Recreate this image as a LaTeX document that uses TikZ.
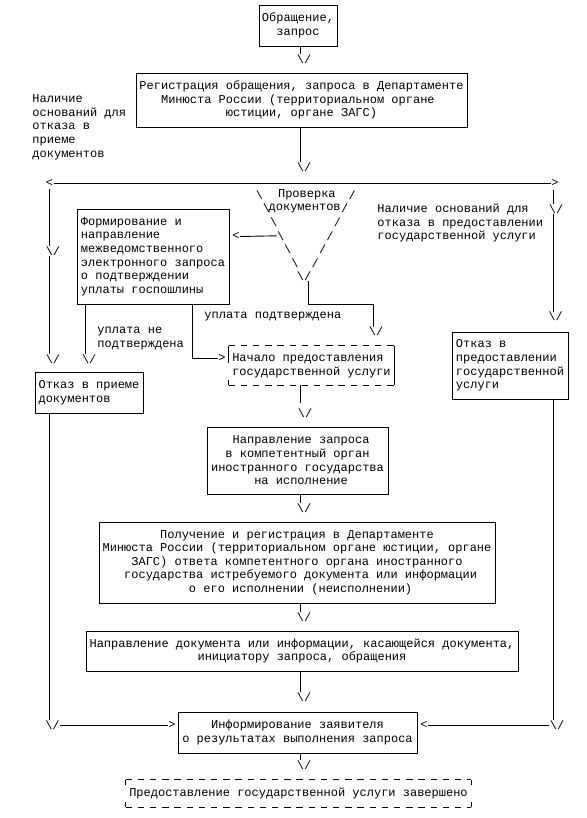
\documentclass[tikz,border=0pt]{standalone}
\usepackage{fontspec}
\setmonofont{Liberation Mono}
\usetikzlibrary{positioning,calc}
\newcommand{\lsp}{\hphantom{0}}

\begin{document}
\begin{tikzpicture}[x=1pt,y=-1pt,line width=0.9pt,
  every node/.style={font=\ttfamily\fontsize{12}{13.6}\selectfont},
  box/.style={draw,inner sep=0pt,align=center},
  lbox/.style={box,align=left},
  plain/.style={inner sep=0pt,align=left},
  head/.style={inner sep=0pt},
  dashline/.style={dash pattern=on 6.5pt off 5.7pt}]
\useasboundingbox (0,0) rectangle (586,818);
\coordinate (axis) at (300.7,0);

%Request
\node[box,minimum width=78pt,minimum height=41pt] (req) at (298,25.5) {Обращение,\\запрос};
\node[head] (h1) at (304,59) {\textbackslash/};
\draw (req.south -| axis)--(h1.north -| axis);

%Registration
\node[box,minimum width=331pt,minimum height=54pt] (reg) at (301.5,100) {
Регистрация обращения, запроса в Департаменте\\
Минюста России (территориальном органе\lsp\\
юстиции, органе ЗАГС)};
\node[plain,anchor=west] (why1) at (32,127.2) {Наличие\\оснований для\\отказа в\\приеме\\документов};
\node[head] (h2) at (304,167) {\textbackslash/};
\draw (reg.south -| axis)--(h2.north -| axis);

% branch line
\node[head,anchor=east] (lt) at (53.5,183) {<};
\node[head,anchor=west] (rt) at (551,183) {>};
\draw (lt.east)--(rt.west);

%Check of documents
\foreach \r in {0,...,5}{
\node[head] (bs\r) at (259.4+7.1*\r,195+13.6*\r) {\textbackslash};
\node[head] (fs\r) at (352.2-7.4*\r,195+13.6*\r) {/};
}
\node[plain,anchor=west] (chk1) at (277.6,195) {Проверка};
\node[plain,anchor=west] (chk2) at (268.2,208.6) {документов};
\node[head] (hd) at (304,276.6) {\textbackslash/};

%Inter-agency request
\node[lbox,minimum width=152pt,minimum height=95pt] (form) at (153,256.5) {
Формирование и\\направление\\межведомственного\\электронного запроса\\о подтверждении\\уплаты госпошлины};
\node[head,anchor=east] (ltf) at (240,236.5) {<};
\draw (ltf.east)--(bs3.west);

% payment not confirmed
\coordinate (nc) at (85.7,0);
\node[head] (hn) at (89.2,359) {\textbackslash/};
\node[plain,anchor=west] (nolbl) at (97,338.5) {уплата не\\подтверждена};
\draw (form.south -| nc)--(hn.north -| nc);

% payment confirmed
\coordinate (pc) at (192.7,0);
\node[plain,anchor=west] (oklbl) at (204,317) {уплата подтверждена};
\node[head,anchor=west] (gt) at (218,358.3) {>};
\draw (form.south -| pc) |- (gt.west);

% exit of the check
\coordinate (d1) at (308.3,0);
\coordinate (d2) at (373.3,304);
\node[head] (hs) at (376,331.7) {\textbackslash/};
\draw (hd.south -| d1) |- (d2)--(d2 |- hs.north);

%Start of the service
\node[lbox,draw=none,minimum width=165pt,minimum height=39pt] (start) at (311.5,365.5) {
Начало предоставления\\государственной услуги};
\draw[dashline] (start.north west)--(start.north east);
\draw[dashline] (start.south west)--(start.south east);
\draw (start.north east)--(start.south east);
\draw (start.north west)--++(0,17);
\draw (start.south west)--++(0,-5);
\node[head] (h3) at (305,413.3) {\textbackslash/};
\draw[shorten >=5pt] (start.south -| axis)--(h3.north -| axis);

%Request to the foreign state
\node[box,minimum width=181pt,minimum height=67pt] (send) at (297.5,460.5) {
\lsp Направление запроса\\в компетентный орган\\иностранного государства\\\lsp на исполнение};
\node[head] (h4) at (304,508.3) {\textbackslash/};
\draw (send.south -| axis)--(h4.north -| axis);

%Answer
\node[box,minimum width=396pt,minimum height=81pt] (recv) at (297,562.5) {
Получение и регистрация в Департаменте\\
Минюста России (территориальном органе юстиции, органе\\
ЗАГС) ответа компетентного органа иностранного\\
\lsp государства истребуемого документа или информации\\
\lsp о его исполнении (неисполнении)};
\node[head] (h5) at (304,617.3) {\textbackslash/};
\draw (recv.south -| axis)--(h5.north -| axis);

%Forwarding
\node[box,minimum width=432pt,minimum height=40pt] (fwd) at (302,651) {
Направление документа или информации, касающейся документа,\\
инициатору запроса, обращения};
\node[head] (h6) at (304,697.3) {\textbackslash/};
\draw (fwd.south -| axis)--(h6.north -| axis);

%Informing
\node[box,minimum width=239pt,minimum height=41pt] (inform) at (297.5,732.5) {
Информирование заявителя\\о результатах выполнения запроса};
\node[head] (h7) at (304,765) {\textbackslash/};
\draw (inform.south -| axis)--(h7.north -| axis);

%Done
\node[box,draw=none,minimum width=345pt,minimum height=27pt] (done) at (298.5,793.5) {
Предоставление государственной услуги завершено};
\draw[dashline] (done.north west)--(done.north east);
\draw[dashline] (done.south west)--(done.south east);
\draw (done.north west)--++(0,5);
\draw (done.north east)--++(0,5);
\draw (done.south west)--++(0,-5);
\draw (done.south east)--++(0,-5);

%Refusal to accept documents
\coordinate (lc) at (49.4,189);
\node[head] (hl1) at (53,251) {\textbackslash/};
\node[head] (hl2) at (53,359) {\textbackslash/};
\node[lbox,minimum width=108pt,minimum height=41pt] (ref1) at (89,392.5) {Отказ в приеме\\документов};
\node[head] (hl3) at (52.5,725) {\textbackslash/};
\node[head,anchor=east] (gl) at (176,725) {>};
\draw (lc)--(hl1.north -| lc);
\draw (hl1.south -| lc)--(hl2.north -| lc);
\draw (ref1.south -| lc)--(hl3.north -| lc);
\draw (hl3.east)--(gl.west);

%Refusal of the service
\coordinate (rc) at (553.5,190);
\node[plain,anchor=west] (why2) at (377,223) {
Наличие оснований для\\отказа в предоставлении\\государственной услуги};
\node[head] (hr1) at (556,209.3) {\textbackslash/};
\node[head] (hr2) at (555.5,316.7) {\textbackslash/};
\node[lbox,minimum width=116pt,minimum height=67pt] (ref2) at (510,365.5) {
Отказ в\\предоставлении\\государственной\\услуги};
\node[head] (hr3) at (557,725) {\textbackslash/};
\node[head,anchor=west] (gr) at (420,725) {<};
\draw (rc)--(hr1.north -| rc);
\draw (hr1.south -| rc)--(hr2.north -| rc);
\draw (ref2.south -| rc)--(hr3.north -| rc);
\draw (hr3.west)--(gr.east);
\end{tikzpicture}
\end{document}
